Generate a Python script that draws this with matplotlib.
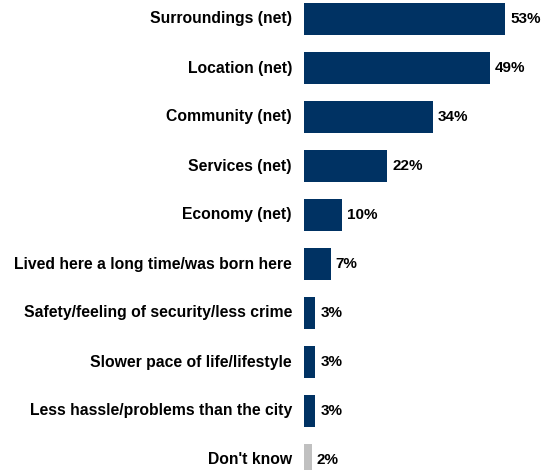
import matplotlib.pyplot as plt

categories = [
    "Surroundings (net)",
    "Location (net)",
    "Community (net)",
    "Services (net)",
    "Economy (net)",
    "Lived here a long time/was born here",
    "Safety/feeling of security/less crime",
    "Slower pace of life/lifestyle",
    "Less hassle/problems than the city",
    "Don't know",
]
values = [53, 49, 34, 22, 10, 7, 3, 3, 3, 2]
colors = ["#003263"] * 9 + ["#c0c0c0"]

plt.rcParams["font.family"] = ["Liberation Sans", "DejaVu Sans"]

W, H = 542, 470
fig = plt.figure(figsize=(W / 100, H / 100), dpi=100)
left_px = 304
px_per_unit = 201 / 53
ax = fig.add_axes([left_px / W, 0, 1 - left_px / W, 1])

pos = list(range(len(values)))
ax.barh(pos, values, height=0.65, color=colors)

ax.set_xlim(0, (W - left_px) / px_per_unit)
ax.set_ylim((H - 19) / 49, -19 / 49)
ax.axis("off")

for y, v, name in zip(pos, values, categories):
    ax.text(v + 5 / px_per_unit, y, f"{v}%", va="center", ha="left",
            fontsize=11, fontweight="bold")
    ax.text(-12 / px_per_unit, y, name, va="center", ha="right",
            fontsize=11.3, fontweight="bold", clip_on=False)

fig.savefig("out.png", dpi=100)
